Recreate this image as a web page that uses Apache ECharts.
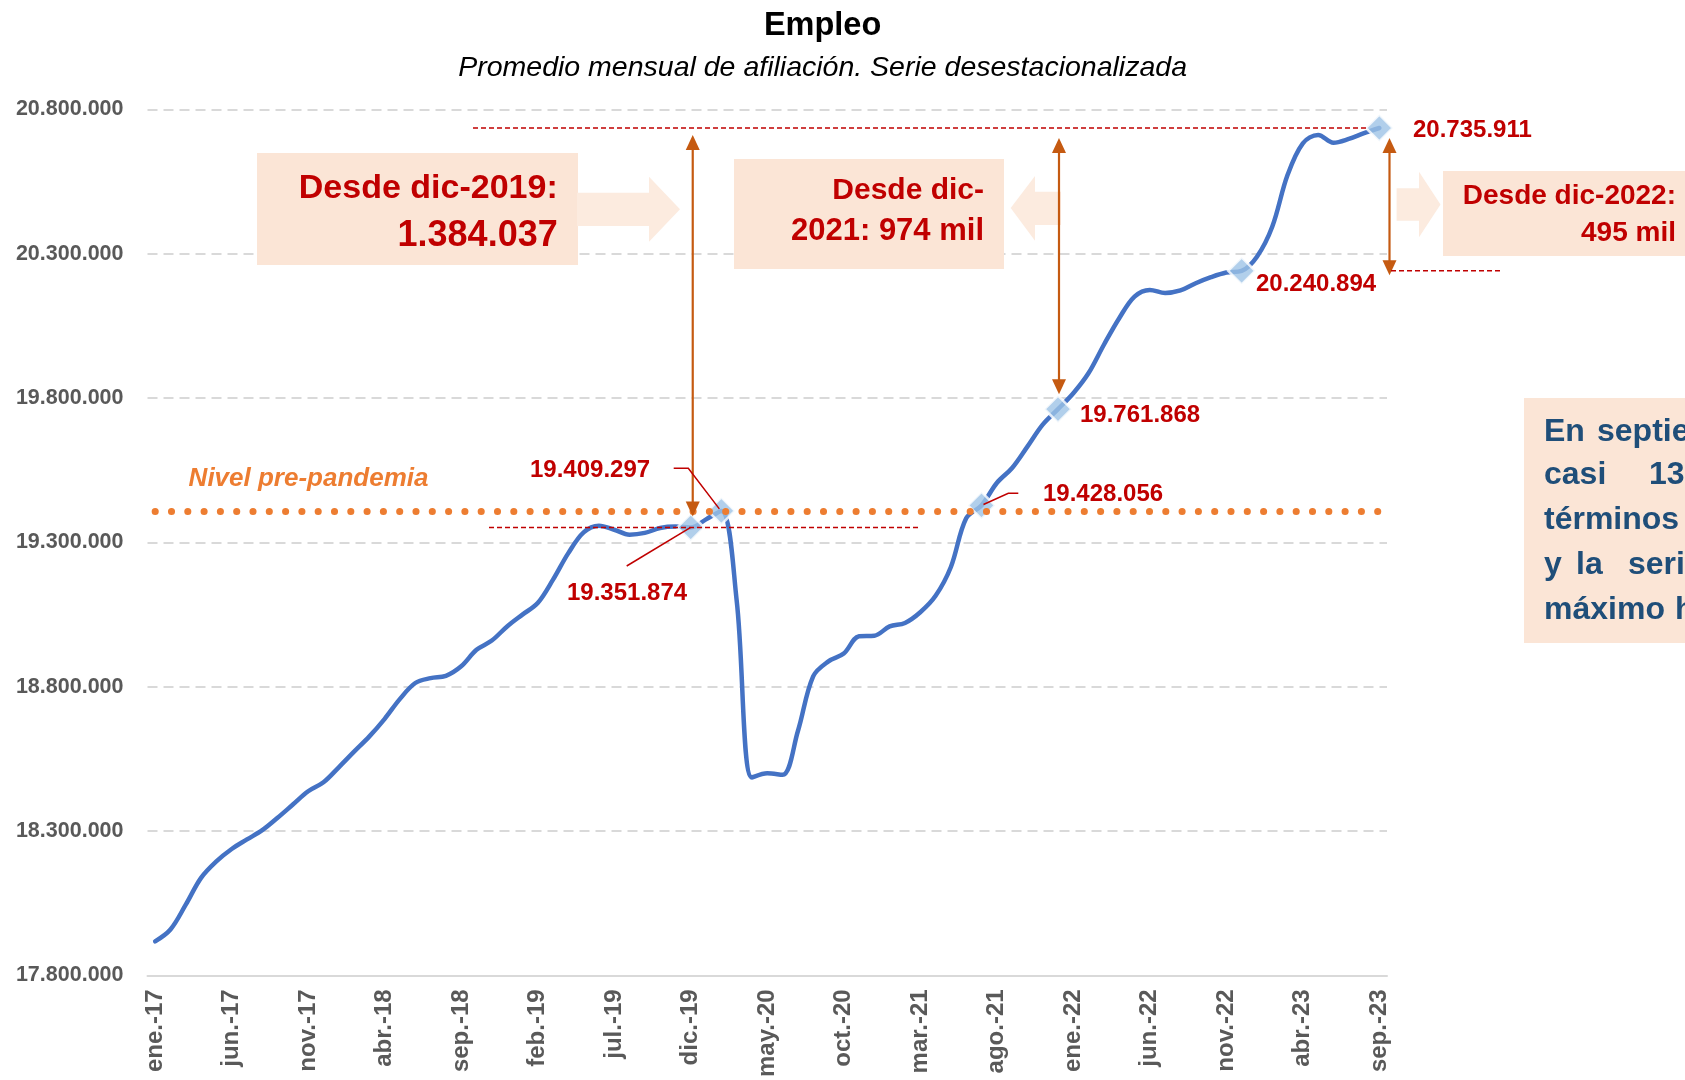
<!DOCTYPE html>
<html>
<head>
<meta charset="UTF-8">
<title>Empleo</title>
<script src="https://cdn.jsdelivr.net/npm/echarts@6.0.0/dist/echarts.min.js"></script>
<style>
	html, body { margin: 0; padding: 0; background: #ffffff; }
	#chart { width: 1685px; height: 1080px; }
</style>
</head>
<body>
<div id="chart"></div>
<script type="text/javascript">
	// datos: afiliación media mensual, serie desestacionalizada (ene-17 .. sep-23)
	var nombresMes = ['ene.', 'feb.', 'mar.', 'abr.', 'may.', 'jun.', 'jul.', 'ago.', 'sep.', 'oct.', 'nov.', 'dic.'];
	var anios = ['17', '18', '19', '20', '21', '22', '23'];
	var meses = [];
	for (var a = 0; a < anios.length; a++) {
		for (var m = 0; m < 12; m++) {
			if (anios[a] === '23' && m > 8) break;
			meses.push(nombresMes[m] + '-' + anios[a]);
		}
	}

	var empleo = [
		17918000, 17959000, 18045000, 18138000, 18195000, 18238000, 18271000, 18303000, 18346000, 18392000, 18438000, 18469000,
		18521000, 18575000, 18628000, 18689000, 18758000, 18813000, 18830000, 18838000, 18871000, 18928000, 18960000, 19009000,
		19050000, 19090000, 19171000, 19263000, 19335000, 19358000, 19344000, 19327000, 19333000, 19350000, 19355000, 19351874,
		19380000, 19409297, 19100000, 18486000, 18500000, 18495000, 18646000, 18836000, 18888000, 18915000, 18975000, 18977000,
		19009000, 19021000, 19058000, 19115000, 19215000, 19384000, 19428056, 19506000, 19558000, 19632000, 19708000, 19761868,
		19817000, 19887000, 19985000, 20077000, 20152000, 20175000, 20164000, 20173000, 20198000, 20219000, 20235000, 20240894,
		20290000, 20394000, 20573000, 20683000, 20712000, 20685000, 20698000, 20718000, 20735911
	];

	// puntos destacados (rombos): dic-19, feb-20, jul-21, dic-21, dic-22, sep-23
	var puntosClave = [35, 37, 54, 59, 71, 80];
	var idxPrePandemia = 37;
	var nivelPrePandemia = empleo[idxPrePandemia];

	var ejeY = { min: 17800000, max: 20800000, paso: 500000 };

	var FUENTE = '"Liberation Sans", Arial, sans-serif';
	var ROJO = '#C00000';

	function fmt(n) {
		return Math.round(n).toString().replace(/\B(?=(\d{3})+(?!\d))/g, '.');
	}

	var chart = echarts.init(document.getElementById('chart'));

	var option = {
		backgroundColor: '#ffffff',
		animation: false,
		grid: { left: 147.5, right: 298, top: 109.5, bottom: 104, containLabel: false },
		xAxis: {
			type: 'category',
			data: meses,
			boundaryGap: true,
			axisLine: { lineStyle: { color: '#D9D9D9', width: 2 } },
			axisTick: { interval: 4, length: 7, lineStyle: { color: '#BFBFBF', width: 1.5 } },
			axisLabel: {
				interval: 4,
				rotate: 90,
				margin: 14,
				color: '#595959',
				fontFamily: FUENTE,
				fontWeight: 'bold',
				fontSize: 24
			},
			splitLine: { show: false }
		},
		yAxis: {
			type: 'value',
			min: ejeY.min,
			max: ejeY.max,
			interval: ejeY.paso,
			axisLine: { show: false },
			axisTick: { show: false },
			axisLabel: {
				margin: 24,
				color: '#595959',
				fontFamily: FUENTE,
				fontWeight: 'bold',
				fontSize: 21.5,
				formatter: function (v) { return fmt(v); }
			},
			splitLine: { lineStyle: { color: '#D9D9D9', width: 2, type: [10, 6] } }
		},
		series: [
			{
				name: 'Afiliación',
				type: 'line',
				data: empleo,
				smooth: 0.35,
				showSymbol: false,
				z: 3,
				lineStyle: { color: '#4472C4', width: 4.5, cap: 'round' },
				markLine: {
					silent: true,
					symbol: ['none', 'none'],
					label: { show: false },
					lineStyle: { color: '#ED7D31', width: 7, type: [0.1, 16.2], cap: 'round' },
					data: [[
						{ coord: [0, nivelPrePandemia] },
						{ coord: [meses.length - 1, nivelPrePandemia] }
					]]
				}
			},
			{
				name: 'Destacados',
				type: 'scatter',
				z: 4,
				symbol: 'diamond',
				symbolSize: 27,
				itemStyle: { color: '#9DC3E6', borderColor: '#ffffff', borderWidth: 2.5 },
				data: puntosClave.map(function (i) { return [i, empleo[i]]; })
			}
		]
	};
	chart.setOption(option);

	// anotaciones ancladas a los datos
	function px(i, v) {
		return chart.convertToPixel({ xAxisIndex: 0, yAxisIndex: 0 }, [i, v]);
	}
	var p35 = px(35, empleo[35]), p37 = px(37, empleo[37]), p54 = px(54, empleo[54]);
	var p59 = px(59, empleo[59]), p71 = px(71, empleo[71]), p80 = px(80, empleo[80]);

	var g = [];
	function texto(x, y, s, size, color, align, estilo) {
		g.push({
			type: 'text', z: 20,
			style: {
				x: x, y: y, text: s,
				font: (estilo || 'bold') + ' ' + size + 'px ' + FUENTE,
				fill: color, textAlign: align || 'left', textVerticalAlign: 'middle', verticalAlign: 'middle'
			}
		});
	}
	function linea(puntos, color, ancho, guiones) {
		g.push({
			type: 'polyline', z: 15,
			shape: { points: puntos },
			style: { stroke: color, lineWidth: ancho, lineDash: guiones || null, fill: null }
		});
	}
	function caja(x, y, w, h, color) {
		g.push({ type: 'rect', z: 10, shape: { x: x, y: y, width: w, height: h }, style: { fill: color } });
	}
	function poligono(puntos, color) {
		g.push({ type: 'polygon', z: 10, shape: { points: puntos }, style: { fill: color } });
	}
	function dobleFlecha(x, arriba, abajo) {
		var c = '#C55A11';
		linea([[x, arriba + 12], [x, abajo - 12]], c, 2.2);
		poligono([[x, arriba], [x - 7, arriba + 15], [x + 7, arriba + 15]], c);
		poligono([[x, abajo], [x - 7, abajo - 15], [x + 7, abajo - 15]], c);
	}

	// líneas discontinuas rojas de referencia
	linea([[473, p80[1]], [p80[0] - 12, p80[1]]], ROJO, 1.5, [5, 3]);
	linea([[489, p35[1]], [921, p35[1]]], ROJO, 1.5, [5, 3]);
	linea([[1391, p71[1]], [1501, p71[1]]], ROJO, 1.5, [5, 3]);

	// flechas dobles
	dobleFlecha(p35[0] + 2, p80[1] + 7, p35[1] - 11);
	dobleFlecha(p59[0] + 1, p80[1] + 10, p59[1] - 15);
	dobleFlecha(1389.5, p80[1] + 10, p71[1] + 4.5);

	// cajas y flechas de bloque
	var CAJA = '#FBE5D6', FLECHA = '#FCEBDF';
	caja(257, 153, 321, 112, CAJA);
	poligono([[577, 192.7], [649, 192.7], [649, 176.7], [680, 209.3], [649, 241.7], [649, 226], [577, 226]], FLECHA);
	caja(734, 159, 270, 110, CAJA);
	poligono([[1061, 191.7], [1035, 191.7], [1035, 176], [1010.7, 208], [1035, 240.7], [1035, 225], [1061, 225]], FLECHA);
	caja(1443, 171, 260, 85, CAJA);
	poligono([[1396.6, 188.3], [1419, 188.3], [1419, 171.7], [1440.5, 204.5], [1419, 237.3], [1419, 220.7], [1396.6, 220.7]], FLECHA);
	caja(1524, 398, 200, 245, CAJA);

	texto(557.7, 188.3, 'Desde dic-2019:', 34, ROJO, 'right');
	texto(557.7, 236, fmt(empleo[80] - empleo[35]), 36, ROJO, 'right');
	texto(984, 190.8, 'Desde dic-', 30, ROJO, 'right');
	texto(984, 231.7, '2021: ' + Math.round((empleo[80] - empleo[59]) / 1000) + ' mil', 31, ROJO, 'right');
	texto(1676, 196.7, 'Desde dic-2022:', 28, ROJO, 'right');
	texto(1676, 233.3, Math.round((empleo[80] - empleo[71]) / 1000) + ' mil', 28, ROJO, 'right');

	// texto azul (justificado, cortado por el borde)
	var AZUL = '#1F4E79';
	var palabras = [
		[1544, 432, 'En'], [1597, 432, 'septiembre'],
		[1544, 475.5, 'casi'], [1649, 475.5, '13.000'],
		[1544, 520, 'términos'],
		[1544, 565, 'y'], [1576, 565, 'la'], [1628, 565, 'serie'],
		[1544, 610, 'máximo'], [1675, 610, 'histórico']
	];
	palabras.forEach(function (p) { texto(p[0], p[1], p[2], 32, AZUL, 'left'); });

	// título
	texto(822.6, 25.8, 'Empleo', 32.5, '#000000', 'center');
	texto(822.6, 67.8, 'Promedio mensual de afiliación. Serie desestacionalizada', 28.5, '#000000', 'center', 'italic');

	// nivel pre-pandemia
	texto(188.6, 479, 'Nivel pre-pandemia', 26, '#ED7D31', 'left', 'italic bold');

	// etiquetas de valores
	texto(1413, 130, fmt(empleo[80]), 24, ROJO, 'left');
	texto(1256, 284, fmt(empleo[71]), 24, ROJO, 'left');
	texto(1080, 415, fmt(empleo[59]), 24, ROJO, 'left');
	texto(1043, 494, fmt(empleo[54]), 24, ROJO, 'left');
	texto(530, 470, fmt(empleo[37]), 24, ROJO, 'left');
	texto(567, 593, fmt(empleo[35]), 24, ROJO, 'left');

	// líneas guía de las etiquetas
	linea([[673.7, 468.3], [688.3, 468.3], [p37[0] - 2, p37[1] - 2]], ROJO, 1.5);
	linea([[626.7, 566], [p35[0], p35[1]]], ROJO, 1.5);
	linea([[p54[0] + 2, p54[1] - 1], [1008.3, 493.3], [1018.3, 493.3]], ROJO, 1.5);

	chart.setOption({ graphic: { elements: g } });
</script>
</body>
</html>
